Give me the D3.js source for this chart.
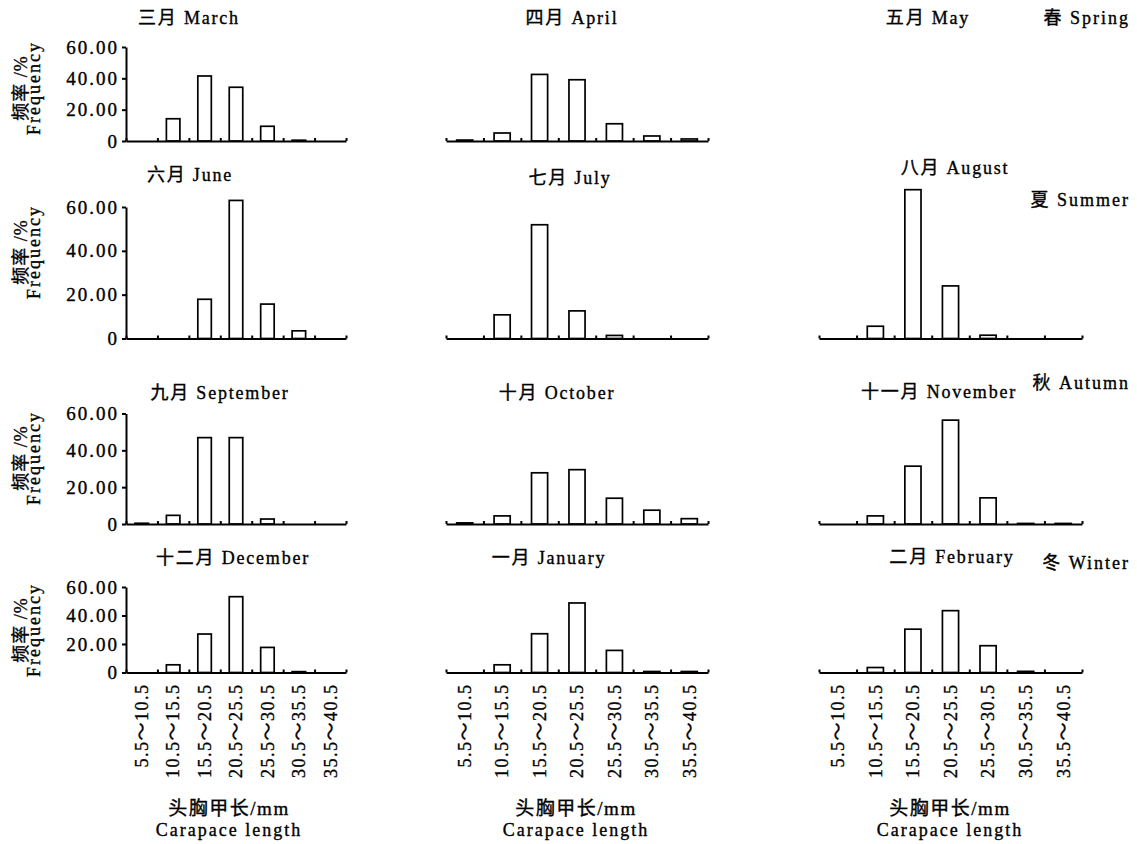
<!DOCTYPE html>
<html lang="zh">
<head>
<meta charset="UTF-8">
<title>头胸甲长频率分布</title>
<script src="https://d3js.org/d3.v7.min.js"></script>
<style>
  body { margin: 0; background: #fff; }
  svg text { font-family: "Liberation Serif", "Noto Sans CJK SC", serif; fill: #000;
             stroke: #000; stroke-width: 0.35px; }
  .axis path, .axis line { stroke: #000; stroke-width: 2; }
  .bar { fill: #fff; stroke: #000; stroke-width: 1.7; }
</style>
</head>
<body>
<script>
// carapace length classes (mm)
var classes = ["5.5～10.5", "10.5～15.5", "15.5～20.5", "20.5～25.5", "25.5～30.5", "30.5～35.5", "35.5～40.5"];
var months = ["三月 March", "四月 April", "五月 May",
              "六月 June", "七月 July", "八月 August",
              "九月 September", "十月 October", "十一月 November",
              "十二月 December", "一月 January", "二月 February"];
var seasons = ["春 Spring", "夏 Summer", "秋 Autumn", "冬 Winter"];
var yTicks = [0, 20, 40, 60];

// frequency % per class
var freqMar = [0, 14.2, 41.5, 34.3, 9.4, 0.5, 0];
var freqApr = [0.6, 5.1, 42.5, 39.1, 11.0, 3.2, 1.3];
var freqMay = [];   // no sample
var freqJun = [0, 0, 17.9, 63.0, 15.7, 3.5, 0];
var freqJul = [0, 10.8, 51.9, 12.6, 1.4, 0, 0];
var freqAug = [0, 5.6, 67.9, 24.0, 1.5, 0, 0];
var freqSep = [0.4, 4.7, 46.9, 46.9, 2.7, 0, 0];
var freqOct = [0.6, 4.4, 27.8, 29.5, 14.0, 7.5, 2.9];
var freqNov = [0, 4.4, 31.4, 56.4, 14.2, 0.3, 0.3];
var freqDec = [0, 5.4, 27.0, 53.2, 17.6, 0.6, 0];
var freqJan = [0, 5.4, 27.2, 48.8, 15.5, 0.7, 0.7];
var freqFeb = [0, 3.5, 30.4, 43.4, 18.8, 0.8, 0];
var frequencies = [freqMar, freqApr, freqMay, freqJun, freqJul, freqAug,
                   freqSep, freqOct, freqNov, freqDec, freqJan, freqFeb];

// layout
var width = 1137, height = 844;
var cols = [[126, 346], [446, 708], [819, 1082]];
var rows = [[47, 141], [207, 338.5], [413.5, 524], [587, 672.5]];
var titleX = [[189, 572, 928], [190, 570, 955], [220, 557, 939], [233, 549, 952]];
var titleY = [[18, 18, 18], [175, 178, 168], [393, 393, 392], [558, 558, 557]];
var seasonY = [18, 200, 383, 563];
var yLabelY = [88, 252, 458, 630];
var xTitleX = [229, 576, 950];

var svg = d3.select("body").append("svg")
    .attr("width", width)
    .attr("height", height);

var fmt = function(d) { return d === 0 ? "0" : d.toFixed(2); };

rows.forEach(function(r, i) {
    var y = d3.scaleLinear().domain([0, 60]).range([r[1], r[0]]);

    cols.forEach(function(c, j) {
        var k = i * 3 + j;
        var vals = frequencies[k];

        svg.append("text")
            .attr("x", titleX[i][j]).attr("y", titleY[i][j])
            .attr("dy", "0.35em")
            .attr("text-anchor", "middle")
            .style("font-size", "18px")
            .style("letter-spacing", "1.8px")
            .text(months[k]);

        if (!vals.length) return;   // May: empty panel

        var x = d3.scaleBand().domain(classes).range(c).padding(0);
        var tx = d3.scaleLinear().domain([0, classes.length]).range(c);

        var bw = x.bandwidth() * 0.43;
        svg.append("g").selectAll("rect")
            .data(vals.map(function(v, n) { return { c: classes[n], v: v }; })
                .filter(function(d) { return d.v > 0; }))
            .join("rect")
            .attr("class", "bar")
            .attr("x", function(d) { return x(d.c) + (x.bandwidth() - bw) / 2; })
            .attr("width", bw)
            .attr("y", function(d) { return y(d.v); })
            .attr("height", function(d) { return y(0) - y(d.v); });

        svg.append("g")
            .attr("class", "axis")
            .attr("transform", "translate(0," + r[1] + ")")
            .call(d3.axisBottom(tx).tickValues(d3.range(classes.length + 1))
                .tickSize(-3).tickSizeOuter(0).tickFormat(""));

        if (j === 0) {
            var ya = svg.append("g")
                .attr("class", "axis")
                .attr("transform", "translate(" + c[0] + ",0)")
                .call(d3.axisLeft(y).tickValues(yTicks).tickSize(4)
                    .tickPadding(3).tickSizeOuter(0).tickFormat(fmt));
            ya.selectAll("text")
                .style("font-size", "19px")
                .style("font-family", null)
                .style("letter-spacing", "2px");

            var yl = svg.append("g")
                .attr("transform", "translate(0," + yLabelY[i] + ") rotate(-90)");
            yl.append("text").attr("x", 0).attr("y", 27)
                .attr("text-anchor", "middle")
                .style("font-size", "18px").style("letter-spacing", "1px")
                .text("频率 /%");
            yl.append("text").attr("x", 0).attr("y", 40)
                .attr("text-anchor", "middle")
                .style("font-size", "18px").style("letter-spacing", "2px")
                .text("Frequency");
        }

        if (i === rows.length - 1) {
            svg.append("g").selectAll("text")
                .data(classes)
                .join("text")
                .attr("transform", function(d) {
                    return "translate(" + (x(d) + x.bandwidth() / 2) + "," + (r[1] + 11) + ") rotate(-90)";
                })
                .attr("dy", "0.35em")
                .attr("text-anchor", "end")
                .style("font-size", "18px")
                .style("letter-spacing", "1.5px")
                .text(function(d) { return d; });

            svg.append("text")
                .attr("x", xTitleX[j]).attr("y", 808).attr("dy", "0.35em")
                .attr("text-anchor", "middle")
                .style("font-size", "19px").style("letter-spacing", "1.5px")
                .text("头胸甲长/mm");
            svg.append("text")
                .attr("x", xTitleX[j]).attr("y", 830).attr("dy", "0.35em")
                .attr("text-anchor", "middle")
                .style("font-size", "18px").style("letter-spacing", "2px")
                .text("Carapace length");
        }
    });

    svg.append("text")
        .attr("x", 1130).attr("y", seasonY[i]).attr("dy", "0.35em")
        .attr("text-anchor", "end")
        .style("font-size", "18px")
        .style("letter-spacing", "2px")
        .text(seasons[i]);
});
</script>
</body>
</html>
